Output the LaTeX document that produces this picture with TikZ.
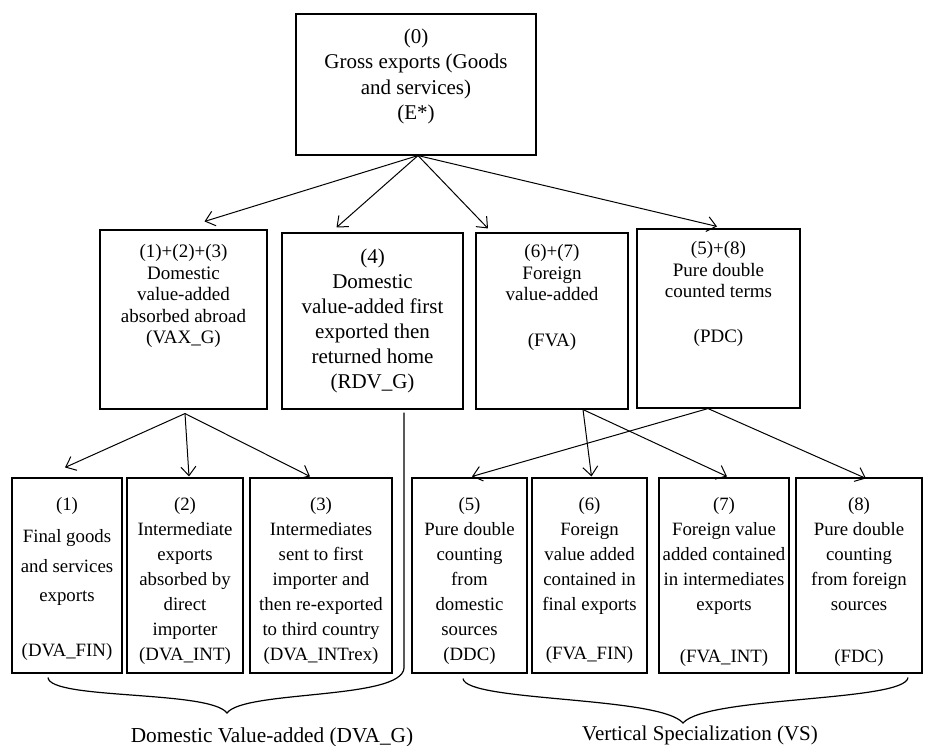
\documentclass[tikz,border=0pt]{standalone}
\usepackage{fontspec}
\setmainfont{Liberation Serif}
\usetikzlibrary{arrows.meta}

\begin{document}
\begin{tikzpicture}[x=1pt,y=-1pt]
\tikzstyle{box}=[draw,line width=1.1pt,inner sep=0pt]
\tikzstyle{txt}=[anchor=north,align=center,inner sep=0pt,font=\fontsize{19}{21.5}\selectfont]
\tikzstyle{low}=[txt,font=\fontsize{18.8}{25}\selectfont]
\tikzstyle{lab}=[inner sep=0pt,font=\fontsize{21.3}{25}\selectfont]
\tikzstyle{arr}=[line width=1pt,-{Straight Barb[length=9pt,width=15pt]}]
\useasboundingbox (0,0) rectangle (932,745);

\node[box,minimum width=240pt,minimum height=141pt] (gross) at (416,84.5) {};
\node[txt,font=\fontsize{21}{25.5}\selectfont] (grosst) at ([yshift=-15pt]gross.north) {(0)\\Gross exports (Goods\\and services)\\(E*)};

\node[box,minimum width=167pt,minimum height=179pt] (vax) at (183.5,319.5) {};
\node[txt] (vaxt) at ([yshift=-15pt]vax.north) {(1)+(2)+(3)\\Domestic\\value-added\\absorbed abroad\\(VAX\_G)};
\node[box,minimum width=181pt,minimum height=176pt] (rdv) at (372.5,321) {};
\node[txt,font=\fontsize{21}{25}\selectfont] (rdvt) at ([yshift=-16pt]rdv.north) {(4)\\Domestic\\value-added first\\exported then\\returned home\\(RDV\_G)};
\node[box,minimum width=152pt,minimum height=176pt] (fva) at (552,321) {};
\node[txt] (fvat) at ([yshift=-12pt]fva.north) {(6)+(7)\\Foreign\\value-added\\[24pt](FVA)};
\node[box,minimum width=163pt,minimum height=179pt] (pdc) at (718.5,318.5) {};
\node[txt] (pdct) at ([yshift=-13pt]pdc.north) {(5)+(8)\\Pure double\\counted terms\\[23pt](PDC)};

\node[box,minimum width=110pt,minimum height=195pt] (fin) at (67,575.5) {};
\node[low] (fint) at ([yshift=-20pt]fin.north) {(1)\\[7pt]Final goods\\[5pt]and services\\[4pt]exports\\[30pt](DVA\_FIN)};
\node[box,minimum width=116pt,minimum height=195pt] (int) at (185,575.5) {};
\node[low] (intt) at ([yshift=-20pt]int.north) {(2)\\Intermediate\\exports\\absorbed by\\direct\\importer\\(DVA\_INT)};
\node[box,minimum width=142pt,minimum height=195pt] (rex) at (321,575.5) {};
\node[low] (rext) at ([yshift=-20pt]rex.north) {(3)\\Intermediates\\sent to first\\importer and\\then re-exported\\to third country\\(DVA\_INTrex)};
\node[box,minimum width=115pt,minimum height=195pt] (ddc) at (469.5,575.5) {};
\node[low] (ddct) at ([yshift=-20pt]ddc.north) {(5)\\Pure double\\counting\\from\\domestic\\sources\\(DDC)};
\node[box,minimum width=115pt,minimum height=195pt] (ffin) at (589.5,575.5) {};
\node[low] (ffint) at ([yshift=-20pt]ffin.north) {(6)\\Foreign\\value added\\contained in\\final exports\\[24pt](FVA\_FIN)};
\node[box,minimum width=130pt,minimum height=195pt] (fint) at (724,575.5) {};
\node[low] (fintt) at ([yshift=-20pt]fint.north) {(7)\\Foreign value\\added contained\\in intermediates\\exports\\[27pt](FVA\_INT)};
\node[box,minimum width=126pt,minimum height=195pt] (fdc) at (859,575.5) {};
\node[low] (fdct) at ([yshift=-20pt]fdc.north) {(8)\\Pure double\\counting\\from foreign\\sources\\[27pt](FDC)};

\draw[arr] ([xshift=2pt]gross.south) -- ([xshift=21pt,yshift=8pt]vax.north);
\draw[arr] ([xshift=2pt]gross.south) -- ([xshift=-36pt,yshift=5pt]rdv.north);
\draw[arr] ([xshift=2pt]gross.south) -- ([xshift=-64pt,yshift=4pt]fva.north);
\draw[arr] ([xshift=2pt]gross.south) -- ([xshift=-1.5pt,yshift=2pt]pdc.north);

\draw[arr] ([xshift=1.5pt,yshift=-4pt]vax.south) -- ([xshift=-2pt,yshift=10pt]fin.north);
\draw[arr] ([xshift=1.5pt,yshift=-4pt]vax.south) -- ([xshift=4pt,yshift=1pt]int.north);
\draw[arr] ([xshift=1.5pt,yshift=-4pt]vax.south) -- ([xshift=-11pt,yshift=1pt]rex.north);

\draw[arr] ([xshift=31pt]fva.south) -- ([xshift=2pt,yshift=1pt]ffin.north);
\draw[arr] ([xshift=31pt]fva.south) -- ([xshift=3pt,yshift=1pt]fint.north);
\draw[arr] ([xshift=-10.5pt]pdc.south) -- ([xshift=2.5pt,yshift=1pt]ddc.north);
\draw[arr] ([xshift=-10.5pt]pdc.south) -- ([xshift=7pt,yshift=-1pt]fdc.north);

\coordinate (dvatip) at (227,713);
\coordinate (dvaend) at (404,668);
\coordinate (vstip) at (683,723);
\draw[line width=1.2pt] ([xshift=31.5pt,yshift=-3pt]rdv.south) -- (dvaend)
  .. controls (402,700) and (244,690) .. (dvatip)
  .. controls (210,690) and (50,700) .. ([xshift=-19pt,yshift=-4pt]fin.south);
\draw[line width=1.2pt] ([xshift=-6.5pt,yshift=-5pt]ddc.south)
  .. controls (466,702) and (660,696) .. (vstip)
  .. controls (706,696) and (905,702) .. ([xshift=49pt,yshift=-4pt]fdc.south);

\node[lab] (dva) at (272,737) {Domestic Value-added (DVA\_G)};
\node[lab,font=\fontsize{21}{25}\selectfont] (vs) at (700,735) {Vertical Specialization (VS)};
\end{tikzpicture}
\end{document}
